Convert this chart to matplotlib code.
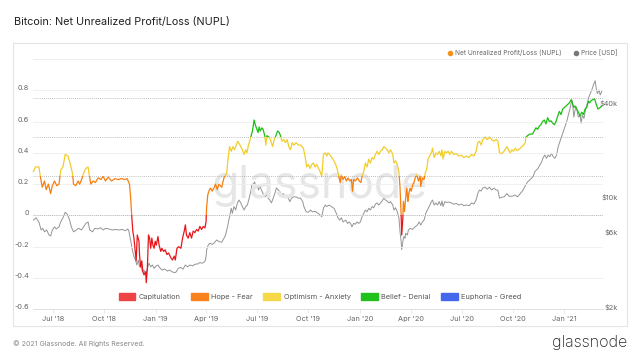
import numpy as np
import pandas as pd
import matplotlib
matplotlib.use('Agg')
import matplotlib.pyplot as plt
import matplotlib.dates as mdates
from matplotlib.patches import Patch, Rectangle
from matplotlib.lines import Line2D

plt.rcParams['font.family'] = ['Inter', 'DejaVu Sans']
plt.rcParams['axes.unicode_minus'] = False

# NUPL readings
nupl_dates = [
    '2018-05-27', '2018-05-31', '2018-06-06', '2018-06-09', '2018-06-12', '2018-06-16', '2018-06-19',
    '2018-06-23', '2018-06-27', '2018-06-30', '2018-07-04', '2018-07-08', '2018-07-12', '2018-07-15',
    '2018-07-19', '2018-07-23', '2018-07-28', '2018-08-01', '2018-08-05', '2018-08-07', '2018-08-11',
    '2018-08-15', '2018-08-18', '2018-08-22', '2018-08-25', '2018-08-29', '2018-09-02', '2018-09-04',
    '2018-09-07', '2018-09-11', '2018-09-15', '2018-09-20', '2018-09-25', '2018-09-29', '2018-10-03',
    '2018-10-08', '2018-10-14', '2018-10-20', '2018-10-26', '2018-11-01', '2018-11-07', '2018-11-11',
    '2018-11-15', '2018-11-17', '2018-11-19', '2018-11-21', '2018-11-23', '2018-11-26', '2018-11-27',
    '2018-11-29', '2018-12-02', '2018-12-03', '2018-12-05', '2018-12-07', '2018-12-09', '2018-12-11',
    '2018-12-14', '2018-12-15', '2018-12-17', '2018-12-19', '2018-12-21', '2018-12-23', '2018-12-25',
    '2018-12-27', '2018-12-29', '2018-12-31',
    '2019-01-02', '2019-01-05', '2019-01-07', '2019-01-10', '2019-01-12', '2019-01-15', '2019-01-18',
    '2019-01-21', '2019-01-24', '2019-01-28', '2019-01-31', '2019-02-03', '2019-02-05', '2019-02-08',
    '2019-02-11', '2019-02-15', '2019-02-18', '2019-02-21', '2019-02-23', '2019-02-25', '2019-02-28',
    '2019-03-03', '2019-03-06', '2019-03-09', '2019-03-12', '2019-03-15', '2019-03-18', '2019-03-21',
    '2019-03-24', '2019-03-27', '2019-03-30', '2019-04-01', '2019-04-02', '2019-04-04', '2019-04-06',
    '2019-04-09', '2019-04-12', '2019-04-15', '2019-04-18', '2019-04-21', '2019-04-24', '2019-04-29',
    '2019-05-03', '2019-05-08', '2019-05-10', '2019-05-13', '2019-05-16', '2019-05-19', '2019-05-22',
    '2019-05-25', '2019-05-28', '2019-06-02', '2019-06-05', '2019-06-08', '2019-06-11', '2019-06-13',
    '2019-06-16', '2019-06-20', '2019-06-23', '2019-06-26', '2019-06-28', '2019-06-30', '2019-07-03',
    '2019-07-05', '2019-07-07', '2019-07-10', '2019-07-12', '2019-07-15', '2019-07-17', '2019-07-19',
    '2019-07-23', '2019-07-26', '2019-07-29', '2019-08-01', '2019-08-04', '2019-08-07', '2019-08-10',
    '2019-08-12', '2019-08-15', '2019-08-18', '2019-08-21', '2019-08-24', '2019-08-27', '2019-08-30',
    '2019-09-02', '2019-09-05', '2019-09-09', '2019-09-13', '2019-09-17', '2019-09-22', '2019-09-25',
    '2019-09-28', '2019-10-01', '2019-10-04', '2019-10-07', '2019-10-10', '2019-10-13', '2019-10-16',
    '2019-10-18', '2019-10-22', '2019-10-25', '2019-10-28', '2019-10-31', '2019-11-03', '2019-11-05',
    '2019-11-10', '2019-11-14', '2019-11-19', '2019-11-22', '2019-11-25', '2019-11-27', '2019-11-29',
    '2019-12-02', '2019-12-05', '2019-12-08', '2019-12-11', '2019-12-14', '2019-12-17', '2019-12-19',
    '2019-12-21', '2019-12-24', '2019-12-28', '2019-12-31',
    '2020-01-03', '2020-01-05', '2020-01-08', '2020-01-11', '2020-01-14', '2020-01-17', '2020-01-20',
    '2020-01-23', '2020-01-26', '2020-01-29', '2020-02-01', '2020-02-04', '2020-02-07', '2020-02-10',
    '2020-02-13', '2020-02-16', '2020-02-19', '2020-02-22', '2020-02-25', '2020-02-29', '2020-03-02',
    '2020-03-05', '2020-03-08', '2020-03-11', '2020-03-13', '2020-03-15', '2020-03-16', '2020-03-18',
    '2020-03-19', '2020-03-21', '2020-03-23', '2020-03-25', '2020-03-27', '2020-03-28', '2020-03-31',
    '2020-04-02', '2020-04-05', '2020-04-07', '2020-04-09', '2020-04-12', '2020-04-15', '2020-04-18',
    '2020-04-19', '2020-04-22', '2020-04-25', '2020-04-27', '2020-04-30', '2020-05-02', '2020-05-05',
    '2020-05-09', '2020-05-10', '2020-05-13', '2020-05-16', '2020-05-19', '2020-05-22', '2020-05-25',
    '2020-05-27', '2020-05-29', '2020-06-01', '2020-06-04', '2020-06-07', '2020-06-10', '2020-06-13',
    '2020-06-17', '2020-06-22', '2020-06-26', '2020-07-01', '2020-07-05', '2020-07-10', '2020-07-14',
    '2020-07-19', '2020-07-23', '2020-07-27', '2020-07-30', '2020-08-02', '2020-08-05', '2020-08-08',
    '2020-08-12', '2020-08-16', '2020-08-20', '2020-08-24', '2020-08-28', '2020-09-01', '2020-09-04',
    '2020-09-07', '2020-09-11', '2020-09-15', '2020-09-20', '2020-09-23', '2020-09-26', '2020-09-29',
    '2020-10-02', '2020-10-05', '2020-10-08', '2020-10-11', '2020-10-14', '2020-10-17', '2020-10-20',
    '2020-10-23', '2020-10-24', '2020-10-27', '2020-10-31', '2020-11-05', '2020-11-08', '2020-11-11',
    '2020-11-14', '2020-11-17', '2020-11-20', '2020-11-23', '2020-11-26', '2020-11-29', '2020-12-02',
    '2020-12-05', '2020-12-08', '2020-12-11', '2020-12-14', '2020-12-17', '2020-12-20', '2020-12-23',
    '2020-12-26', '2020-12-29',
    '2021-01-01', '2021-01-04', '2021-01-07', '2021-01-10', '2021-01-13', '2021-01-15', '2021-01-18',
    '2021-01-20', '2021-01-23', '2021-01-26', '2021-01-29', '2021-02-01', '2021-02-04', '2021-02-07',
    '2021-02-10', '2021-02-13', '2021-02-15', '2021-02-18', '2021-02-21', '2021-02-24', '2021-02-27',
    '2021-03-02', '2021-03-06', '2021-03-09',
]
nupl = [
    0.28, 0.31, 0.31, 0.24, 0.18, 0.22, 0.165,
    0.20, 0.14, 0.19, 0.22, 0.19, 0.20, 0.29,
    0.31, 0.39, 0.38, 0.33, 0.27, 0.20, 0.19,
    0.22, 0.20, 0.235, 0.27, 0.30, 0.31, 0.26,
    0.20, 0.22, 0.21, 0.24, 0.23, 0.25, 0.22,
    0.245, 0.22, 0.235, 0.23, 0.235, 0.23, 0.235,
    0.20, 0.12, 0.0, -0.10, -0.145, -0.25, -0.29,
    -0.125, -0.165, -0.25, -0.33, -0.29, -0.36, -0.38,
    -0.36, -0.43, -0.34, -0.125, -0.145, -0.21, -0.145,
    -0.19, -0.21, -0.165,
    -0.19, -0.135, -0.19, -0.23, -0.21, -0.23, -0.22,
    -0.25, -0.24, -0.27, -0.285, -0.26, -0.285, -0.21,
    -0.20, -0.21, -0.145, -0.10, -0.06, -0.125, -0.145,
    -0.11, -0.145, -0.10, -0.11, -0.09, -0.10, -0.07,
    -0.09, -0.07, -0.08, -0.04, 0.05, 0.13, 0.155,
    0.175, 0.155, 0.175, 0.20, 0.165, 0.20, 0.18,
    0.24, 0.27, 0.35, 0.44, 0.41, 0.44, 0.42,
    0.45, 0.475, 0.44, 0.42, 0.39, 0.42, 0.40,
    0.45, 0.50, 0.54, 0.61, 0.58, 0.56, 0.53,
    0.565, 0.54, 0.56, 0.55, 0.51, 0.45, 0.51,
    0.50, 0.475, 0.44, 0.485, 0.51, 0.54, 0.53,
    0.51, 0.475, 0.485, 0.465, 0.485, 0.44, 0.42,
    0.465, 0.45, 0.465, 0.45, 0.45, 0.43, 0.38,
    0.31, 0.325, 0.30, 0.325, 0.335, 0.31, 0.325,
    0.31, 0.28, 0.25, 0.39, 0.40, 0.38, 0.40,
    0.38, 0.36, 0.325, 0.29, 0.24, 0.21, 0.26,
    0.23, 0.25, 0.22, 0.24, 0.22, 0.23, 0.155,
    0.23, 0.22, 0.24, 0.22,
    0.21, 0.25, 0.28, 0.335, 0.31, 0.36, 0.335,
    0.37, 0.36, 0.39, 0.41, 0.39, 0.41, 0.42,
    0.44, 0.43, 0.42, 0.40, 0.42, 0.39, 0.335,
    0.35, 0.325, 0.28, 0.175, 0.0, -0.125, -0.02,
    0.09, 0.025, 0.11, 0.175, 0.09, 0.13, 0.175,
    0.155, 0.20, 0.21, 0.24, 0.26, 0.22, 0.25,
    0.185, 0.24, 0.23, 0.27, 0.30, 0.36, 0.38,
    0.41, 0.43, 0.37, 0.40, 0.39, 0.41, 0.38,
    0.42, 0.36, 0.41, 0.40, 0.41, 0.39, 0.41,
    0.39, 0.395, 0.38, 0.385, 0.37, 0.38, 0.37,
    0.39, 0.38, 0.41, 0.465, 0.475, 0.45, 0.485,
    0.50, 0.485, 0.50, 0.485, 0.475, 0.485, 0.475,
    0.40, 0.395, 0.41, 0.44, 0.42, 0.40, 0.42,
    0.41, 0.43, 0.415, 0.42, 0.43, 0.44, 0.45,
    0.465, 0.50, 0.51, 0.52, 0.52, 0.54, 0.56,
    0.55, 0.57, 0.58, 0.60, 0.61, 0.585, 0.625,
    0.60, 0.605, 0.59, 0.58, 0.60, 0.635, 0.665,
    0.645, 0.68,
    0.69, 0.70, 0.71, 0.72, 0.74, 0.72, 0.69,
    0.70, 0.68, 0.66, 0.635, 0.66, 0.645, 0.68,
    0.69, 0.73, 0.72, 0.735, 0.74, 0.745, 0.71,
    0.68, 0.69, 0.70,
]

# Price readings (USD)
price_dates = [
    '2018-05-27', '2018-06-01', '2018-06-06', '2018-06-10', '2018-06-13', '2018-06-16', '2018-06-20',
    '2018-06-24', '2018-06-27', '2018-06-30', '2018-07-04', '2018-07-07', '2018-07-12', '2018-07-15',
    '2018-07-19', '2018-07-23', '2018-07-27', '2018-07-31', '2018-08-03', '2018-08-07', '2018-08-12',
    '2018-08-16', '2018-08-21', '2018-08-25', '2018-08-29', '2018-09-02', '2018-09-05', '2018-09-10',
    '2018-09-14', '2018-09-20', '2018-09-24', '2018-09-29', '2018-10-03', '2018-10-09', '2018-10-15',
    '2018-10-21', '2018-10-27', '2018-11-02', '2018-11-08', '2018-11-12', '2018-11-14', '2018-11-17',
    '2018-11-20', '2018-11-23', '2018-11-26', '2018-11-28', '2018-12-01', '2018-12-03', '2018-12-05',
    '2018-12-08', '2018-12-11', '2018-12-14', '2018-12-17', '2018-12-20', '2018-12-23', '2018-12-26',
    '2018-12-29',
    '2019-01-02', '2019-01-05', '2019-01-08', '2019-01-12', '2019-01-17', '2019-01-22', '2019-01-26',
    '2019-01-30', '2019-02-04', '2019-02-07', '2019-02-10', '2019-02-15', '2019-02-19', '2019-02-23',
    '2019-02-27', '2019-03-03', '2019-03-08', '2019-03-12', '2019-03-17', '2019-03-21', '2019-03-25',
    '2019-03-30', '2019-04-01', '2019-04-02', '2019-04-05', '2019-04-08', '2019-04-12', '2019-04-15',
    '2019-04-20', '2019-04-24', '2019-04-29', '2019-05-03', '2019-05-06', '2019-05-10', '2019-05-13',
    '2019-05-16', '2019-05-18', '2019-05-21', '2019-05-24', '2019-05-27', '2019-05-30', '2019-06-02',
    '2019-06-05', '2019-06-08', '2019-06-11', '2019-06-14', '2019-06-17', '2019-06-20', '2019-06-22',
    '2019-06-25', '2019-06-27', '2019-06-29', '2019-07-01', '2019-07-04', '2019-07-06', '2019-07-09',
    '2019-07-12', '2019-07-15', '2019-07-18', '2019-07-21', '2019-07-24', '2019-07-27', '2019-07-30',
    '2019-08-02', '2019-08-05', '2019-08-08', '2019-08-11', '2019-08-14', '2019-08-17', '2019-08-20',
    '2019-08-23', '2019-08-26', '2019-08-29', '2019-09-01', '2019-09-04', '2019-09-09', '2019-09-13',
    '2019-09-17', '2019-09-21', '2019-09-23', '2019-09-27', '2019-10-01', '2019-10-05', '2019-10-08',
    '2019-10-13', '2019-10-17', '2019-10-22', '2019-10-25', '2019-10-28', '2019-10-31', '2019-11-03',
    '2019-11-07', '2019-11-11', '2019-11-16', '2019-11-20', '2019-11-23', '2019-11-26', '2019-11-29',
    '2019-12-02', '2019-12-07', '2019-12-10', '2019-12-13', '2019-12-16', '2019-12-18', '2019-12-21',
    '2019-12-24', '2019-12-27', '2019-12-30',
    '2020-01-02', '2020-01-05', '2020-01-08', '2020-01-11', '2020-01-14', '2020-01-17', '2020-01-20',
    '2020-01-23', '2020-01-26', '2020-01-29', '2020-02-01', '2020-02-04', '2020-02-07', '2020-02-10',
    '2020-02-13', '2020-02-16', '2020-02-19', '2020-02-22', '2020-02-25', '2020-02-29', '2020-03-02',
    '2020-03-05', '2020-03-08', '2020-03-11', '2020-03-13', '2020-03-15', '2020-03-16', '2020-03-18',
    '2020-03-20', '2020-03-22', '2020-03-23', '2020-03-26', '2020-03-28', '2020-03-31', '2020-04-04',
    '2020-04-09', '2020-04-13', '2020-04-16', '2020-04-19', '2020-04-22', '2020-04-25', '2020-04-28',
    '2020-05-01', '2020-05-04', '2020-05-07', '2020-05-10', '2020-05-13', '2020-05-16', '2020-05-19',
    '2020-05-22', '2020-05-25', '2020-05-27', '2020-05-29', '2020-06-01', '2020-06-04', '2020-06-08',
    '2020-06-13', '2020-06-17', '2020-06-22', '2020-06-26', '2020-07-01', '2020-07-05', '2020-07-10',
    '2020-07-15', '2020-07-19', '2020-07-23', '2020-07-27', '2020-07-30', '2020-08-02', '2020-08-05',
    '2020-08-08', '2020-08-12', '2020-08-16', '2020-08-20', '2020-08-24', '2020-08-28', '2020-09-01',
    '2020-09-04', '2020-09-07', '2020-09-11', '2020-09-15', '2020-09-20', '2020-09-24', '2020-09-30',
    '2020-10-05', '2020-10-09', '2020-10-14', '2020-10-18', '2020-10-21', '2020-10-24', '2020-10-27',
    '2020-10-31', '2020-11-03', '2020-11-06', '2020-11-09', '2020-11-12', '2020-11-15', '2020-11-18',
    '2020-11-21', '2020-11-24', '2020-11-27', '2020-11-30', '2020-12-03', '2020-12-06', '2020-12-09',
    '2020-12-12', '2020-12-15', '2020-12-18', '2020-12-21', '2020-12-24', '2020-12-27', '2020-12-30',
    '2021-01-02', '2021-01-05', '2021-01-08', '2021-01-11', '2021-01-13', '2021-01-15', '2021-01-16',
    '2021-01-18', '2021-01-20', '2021-01-22', '2021-01-24', '2021-01-26', '2021-01-29', '2021-01-31',
    '2021-02-02', '2021-02-05', '2021-02-07', '2021-02-10', '2021-02-13', '2021-02-16', '2021-02-19',
    '2021-02-22', '2021-02-25', '2021-02-27', '2021-03-01', '2021-03-04', '2021-03-06', '2021-03-09',
]
price = [
    7400, 7650, 7200, 6400, 6560, 6230, 6400,
    5950, 5860, 6400, 6700, 6500, 6700, 7200,
    7650, 8300, 8040, 7400, 6700, 6230, 6400,
    6560, 6400, 6700, 7050, 7200, 6400, 6230,
    6560, 6500, 6620, 6400, 6560, 6500, 6400,
    6450, 6400, 6450, 6330, 6500, 6300, 5530,
    4800, 4330, 4120, 3830, 4120, 3730, 3930,
    3470, 3560, 3300, 3650, 3930, 3730, 3830,
    3650,
    3780, 3830, 3690, 3560, 3610, 3500, 3560,
    3470, 3420, 3470, 3650, 3690, 3610, 3830,
    3730, 3830, 3780, 3870, 3890, 3970, 3930,
    4030, 4330, 4770, 5140, 5270, 5190, 5270,
    5530, 5400, 5350, 5660, 5950, 6880, 7770,
    8800, 8170, 9030, 8580, 9520, 9930, 9520,
    9030, 8580, 9030, 9230, 10210, 11240, 12380,
    12650, 12950, 12000, 12380, 11500, 12380, 11500,
    10920, 10400, 10690, 10210, 9930, 9520, 10210,
    10920, 11850, 11500, 11240, 10690, 10920, 10400,
    10690, 10210, 9700, 10210, 10400, 10400, 10200,
    10210, 9700, 9030, 8360, 8300, 8580, 8360,
    8400, 8250, 7980, 7770, 8800, 9230, 9030,
    9230, 9030, 8800, 8170, 7650, 7400, 7650,
    7200, 7400, 7050, 7200, 6970, 6700, 7050,
    6970, 7200, 7050,
    7200, 7770, 8170, 8580, 8360, 8800, 8580,
    9030, 8870, 9360, 9520, 9230, 9520, 9800,
    10210, 9930, 9800, 9520, 9700, 9230, 8580,
    8870, 8360, 7650, 6230, 5400, 4800, 5400,
    5830, 5660, 6100, 5950, 6400, 6560, 6450,
    6700, 6880, 7200, 6880, 7200, 7400, 8170,
    8580, 9030, 9520, 9930, 9230, 9520, 9230,
    9700, 9150, 9800, 9030, 9700, 9590, 9640,
    9520, 9360, 9440, 9230, 9360, 9150, 9230,
    9150, 9520, 9360, 9930, 10920, 11500, 11340,
    11850, 12000, 11650, 12000, 11500, 11850, 11500,
    11500, 10210, 10360, 10400, 10920, 10500, 10500,
    10690, 10400, 10920, 11340, 11850, 12380, 12950,
    13330, 13670, 14000, 15040, 15420, 15830, 16600,
    17280, 18500, 19220, 18320, 19220, 18750, 19710,
    18750, 18320, 19220, 21800, 23400, 25200, 27100,
    29100, 31300, 34500, 38000, 41000, 43000, 39100,
    33500, 37200, 39100, 36250, 33500, 34500, 30600,
    34500, 32900, 36250, 40000, 44000, 47300, 49900,
    53800, 57100, 51000, 47300, 49900, 46400, 48800,
]

zone_names = ['Capitulation', 'Hope - Fear', 'Optimism - Anxiety', 'Belief - Denial', 'Euphoria - Greed']
zone_bands = [(-1.0, 0.0), (0.0, 0.25), (0.25, 0.5), (0.5, 0.75), (0.75, 2.0)]
zone_line_colors = ['#e8161b', '#f77f0f', '#f2cd2a', '#1bbf14', '#3f66e8']
zone_patch_colors = ['#ee4446', '#f8821c', '#f5d94b', '#22c21d', '#4467ec']

left_ticks = [-0.6, -0.4, -0.2, 0, 0.2, 0.4, 0.6, 0.8]
right_ticks = [2000, 6000, 10000, 40000]
right_labels = ['$2k', '$6k', '$10k', '$40k']

nx = pd.to_datetime(nupl_dates)
px = pd.to_datetime(price_dates)

fig = plt.figure(figsize=(6.4, 3.6), dpi=100)
fig.add_artist(Rectangle((13 / 640, 1 - 326 / 360), 614 / 640, 283 / 360,
                         transform=fig.transFigure, fc='white', ec='#e4e4e4', lw=0.8, zorder=0))

ax = fig.add_axes([33.3 / 640, 1 - 309.3 / 360, 569.4 / 640, 250.3 / 360])
ax2 = ax.twinx()
ax.set_zorder(ax2.get_zorder() + 1)
ax.patch.set_visible(False)

# price on log axis
ax2.plot(px, price, color='#949494', lw=0.7)
ax2.set_yscale('log')
ax2.set_ylim(2000, 78600)
ax2.yaxis.set_minor_locator(matplotlib.ticker.NullLocator())
ax2.set_yticks(right_ticks)
ax2.set_yticklabels(right_labels)
ax2.tick_params(axis='y', length=0, pad=11, labelsize=5.3, labelcolor='#666666')
plt.setp(ax2.get_yticklabels(), ha='right', va='baseline')

# NUPL coloured by zone
xlo = mdates.date2num(pd.Timestamp('2018-01-01'))
xhi = mdates.date2num(pd.Timestamp('2022-01-01'))
for (lo, hi), c in zip(zone_bands, zone_line_colors):
    ln, = ax.plot(nx, nupl, color=c, lw=0.9, solid_joinstyle='round')
    ln.set_clip_path(Rectangle((xlo, lo), xhi - xlo, hi - lo, transform=ax.transData))

ax.set_ylim(-0.6, 1.0)
ax.set_yticks(left_ticks)
ax.set_yticklabels([f'{t:g}' for t in left_ticks])
ax.tick_params(axis='y', length=0, pad=3, labelsize=5.3, labelcolor='#666666')
plt.setp(ax.get_yticklabels(), va='baseline')
ax.grid(axis='y', color='#eeeeee', lw=0.6)
ax.set_axisbelow(True)
for t in [0, 0.25, 0.5, 0.75]:
    ax.axhline(t, color='#aaaaaa', lw=0.6, ls=(0, (1, 1.5)), zorder=1)

ax.set_xlim(pd.Timestamp('2018-05-27'), pd.Timestamp('2021-03-10 12:00'))
ax.xaxis.set_major_locator(mdates.MonthLocator(bymonth=[1, 4, 7, 10]))
ax.xaxis.set_major_formatter(mdates.DateFormatter("%b '%y"))
ax.tick_params(axis='x', length=3, width=0.5, color='#e0e0e0', pad=2, labelsize=5.3, labelcolor='#666666')

for a in (ax, ax2):
    for s in ['left', 'right']:
        a.spines[s].set_visible(False)
    a.spines['top'].set_color('#eeeeee')
    a.spines['top'].set_linewidth(0.6)
    a.spines['bottom'].set_color('#e0e0e0')
    a.spines['bottom'].set_linewidth(0.6)

ax.text(0.5035, 0.445, 'glassnode', transform=ax.transAxes, ha='center', va='baseline',
        fontsize=32, color='#e6e6e6', zorder=0)

handles = [Patch(facecolor=c, edgecolor=c) for c in zone_patch_colors]
ax.legend(handles, zone_names, loc='center', bbox_to_anchor=(0.5035, 0.05), ncol=5, frameon=False,
          fontsize=5.3, labelcolor='#555555', handlelength=2.3, handleheight=0.9,
          handletextpad=0.45, columnspacing=1.4)

# header and footer
fig.text(14 / 640, 1 - 22 / 360, 'Bitcoin: Net Unrealized Profit/Loss (NUPL)', fontsize=7.8,
         color='#222222', va='center')
fig.add_artist(Line2D([450 / 640], [1 - 52.7 / 360], marker='o', ms=3, color='#f7931a',
                      transform=fig.transFigure, lw=0))
fig.text(455 / 640, 1 - 52.7 / 360, 'Net Unrealized Profit/Loss (NUPL)', fontsize=4.7,
         color='#666666', va='center')
fig.add_artist(Line2D([576 / 640], [1 - 52.7 / 360], marker='o', ms=3, color='#777777',
                      transform=fig.transFigure, lw=0))
fig.text(581 / 640, 1 - 52.7 / 360, 'Price [USD]', fontsize=4.7, color='#666666', va='center')
fig.text(13 / 640, 1 - 344 / 360, '\u00a9 2021 Glassnode. All Rights Reserved.', fontsize=5.1,
         color='#888888', va='center')
fig.text(627 / 640, 1 - 343 / 360, 'glassnode', fontsize=11.5, color='#222222', ha='right', va='center',
         fontweight='light')

fig.savefig('out.png', dpi=100)
